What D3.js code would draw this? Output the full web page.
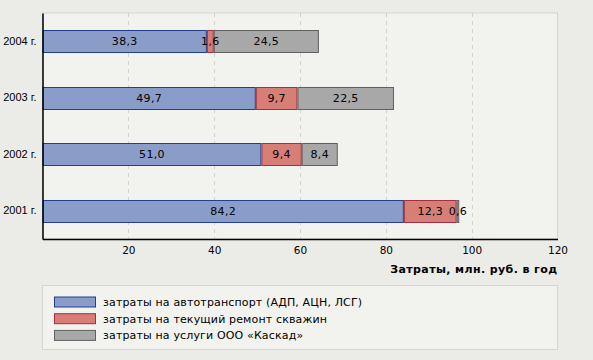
<!DOCTYPE html>
<html><head><meta charset="utf-8">
<script src="https://cdn.jsdelivr.net/npm/d3@7"></script>
<style>
html,body{margin:0;padding:0;background:#ebebe7;}
svg{display:block;}
</style></head>
<body>
<script>
const categories = ["2004 г.", "2003 г.", "2002 г.", "2001 г."];
const seriesNames = [
  "затраты на автотранспорт (АДП, АЦН, ЛСГ)",
  "затраты на текущий ремонт скважин",
  "затраты на услуги ООО «Каскад»"
];
const transport = [38.3, 49.7, 51.0, 84.2];
const repair = [1.6, 9.7, 9.4, 12.3];
const kaskad = [24.5, 22.5, 8.4, 0.6];
const xTicks = [20, 40, 60, 80, 100, 120];
const axisTitle = "Затраты, млн. руб. в год";

const fills = ["#8a9cc8", "#d77f76", "#a8a8a8"];
const strokes = ["#213e8f", "#a33040", "#606060"];

const W = 593, H = 360;
const m = {left: 42.5, right: 35.5, top: 13, bottom: 121};
const svg = d3.select("body").append("svg").attr("width", W).attr("height", H);

svg.append("rect").attr("width", W).attr("height", H).attr("fill", "#ebebe7");

const x = d3.scaleLinear().domain([0, 120]).range([m.left, W - m.right]);
const y = d3.scaleBand().domain(categories).range([m.top, H - m.bottom]).paddingInner(0.61).paddingOuter(0.305);

// plot bg
svg.append("rect").attr("x", m.left).attr("y", m.top)
  .attr("width", x(120) - m.left).attr("height", H - m.bottom - m.top)
  .attr("fill", "#f2f2ee").attr("stroke", "#d4d4d0").attr("stroke-width", 1);

// grid
svg.append("g").selectAll("line").data(xTicks.filter(d => d < 120)).join("line")
  .attr("x1", d => Math.round(x(d)) + 0.5).attr("x2", d => Math.round(x(d)) + 0.5)
  .attr("y1", m.top).attr("y2", H - m.bottom)
  .attr("stroke", "#d2d2ce").attr("stroke-dasharray", "4,4");

const series = [transport, repair, kaskad];
const stack = categories.map((c, i) => {
  let acc = 0;
  return series.map((s, k) => { const r = {cat: c, k, v: s[i], x0: acc, x1: acc + s[i]}; acc += s[i]; return r; });
});
const flat = stack.flat();

const g = svg.append("g");
g.selectAll("rect").data(flat).join("rect")
  .attr("x", d => x(d.x0) + 0.5)
  .attr("y", d => Math.round(y(d.cat)) + 0.5)
  .attr("width", d => Math.max(0, x(d.x1) - x(d.x0) - 1))
  .attr("height", Math.round(y.bandwidth()))
  .attr("fill", d => fills[d.k]).attr("stroke", d => strokes[d.k]).attr("stroke-width", 1);

g.selectAll("text").data(flat).join("text")
  .attr("x", d => (x(d.x0) + x(d.x1)) / 2)
  .attr("y", d => Math.round(y(d.cat)) + y.bandwidth() / 2 + 4)
  .attr("text-anchor", "middle")
  .attr("font-family", "DejaVu Sans, Verdana, sans-serif").attr("font-size", 11)
  .attr("letter-spacing", 0.3)
  .attr("fill", "#000")
  .text(d => d3.format(".1f")(d.v).replace(".", ","));

// axes
const xAxis = d3.axisBottom(x).tickValues(xTicks).tickSize(0).tickPadding(8).tickFormat(d3.format("d"));
const xg = svg.append("g").attr("transform", `translate(0,${H - m.bottom})`).call(xAxis);
xg.select(".domain").attr("stroke", "#000").attr("stroke-width", 1.5);
xg.selectAll("text").attr("font-family", "DejaVu Sans, Verdana, sans-serif").attr("font-size", 10.5).attr("fill", "#000");
xg.selectAll(".tick line").remove();

const yAxis = d3.axisLeft(y).tickSize(0).tickPadding(6);
const yg = svg.append("g").attr("transform", `translate(${m.left},0)`).call(yAxis);
yg.select(".domain").attr("stroke", "#000").attr("stroke-width", 1.5);
yg.selectAll("text").attr("font-family", "Liberation Sans, Arial, sans-serif").attr("font-size", 11).attr("fill", "#000");

svg.append("text").attr("x", x(120)).attr("y", 273).attr("text-anchor", "end")
  .attr("font-family", "DejaVu Sans, Verdana, sans-serif").attr("font-weight", "bold").attr("font-size", 11)
  .attr("letter-spacing", 0.4)
  .attr("fill", "#000").text(axisTitle);

// legend
svg.append("rect").attr("x", 42.5).attr("y", 285.5).attr("width", 515).attr("height", 64)
  .attr("fill", "#f2f2ee").attr("stroke", "#d4d4d0");
const lg = svg.append("g").selectAll("g").data(seriesNames).join("g")
  .attr("transform", (d, i) => `translate(54,${296.5 + i * 16.7})`);
lg.append("rect").attr("x", 0.5).attr("y", 0.5).attr("width", 41).attr("height", 10)
  .attr("fill", (d, i) => fills[i]).attr("stroke", (d, i) => strokes[i]);
lg.append("text").attr("x", 49).attr("y", 9.5)
  .attr("font-family", "DejaVu Sans, Verdana, sans-serif").attr("font-size", 11)
  .attr("letter-spacing", 0.15)
  .attr("fill", "#000").text(d => d);
</script>
</body></html>
